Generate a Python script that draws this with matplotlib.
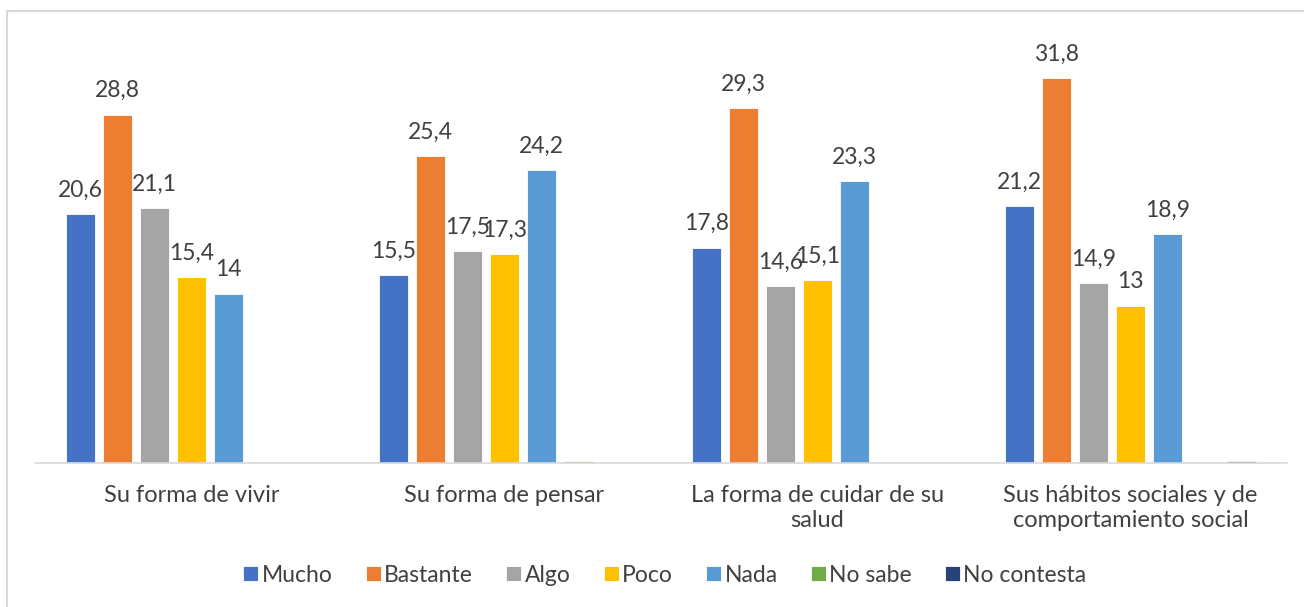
import matplotlib.pyplot as plt
import numpy as np
from matplotlib.patches import Rectangle

categories = ["Su forma de vivir", "Su forma de pensar",
              "La forma de cuidar de su\nsalud",
              "Sus hábitos sociales y de\ncomportamiento social"]
series_names = ["Mucho", "Bastante", "Algo", "Poco", "Nada", "No sabe", "No contesta"]
mucho = [20.6, 15.5, 17.8, 21.2]
bastante = [28.8, 25.4, 29.3, 31.8]
algo = [21.1, 17.5, 14.6, 14.9]
poco = [15.4, 17.3, 15.1, 13.0]
nada = [14.0, 24.2, 23.3, 18.9]
no_sabe = [0.1, 0.2, 0.0, 0.1]
no_contesta = [0.0, 0.0, 0.0, 0.2]
colors = ["#4472C4", "#ED7D31", "#A5A5A5", "#FFC000", "#5B9BD5", "#70AD47", "#264478"]

series = [mucho, bastante, algo, poco, nada, no_sabe, no_contesta]

plt.rcParams['font.family'] = ['Lato', 'DejaVu Sans']

W, H = 1304, 607
fig = plt.figure(figsize=(W/100, H/100), dpi=100)
ax = fig.add_axes([35/W, 1-463/H, (1287-35)/W, (463-39.5)/H])

x = np.arange(len(categories))
step = 37/313
width = 29/313
for i, (name, vals, c) in enumerate(zip(series_names, series, colors)):
    pos = x + (i - 3) * step
    ax.bar(pos, vals, width, color=c, label=name, edgecolor='white', linewidth=0.6)
    for p, v in zip(pos, vals):
        if v >= 1:
            txt = ("%g" % v).replace('.', ',')
            ax.text(p, v + 1.1, txt, ha='center', va='bottom', fontsize=16.5, color='#404040')

ax.set_xlim(-0.5, len(categories) - 0.5)
ax.set_ylim(0, 35)
for s in ['top', 'right', 'left']:
    ax.spines[s].set_visible(False)
ax.spines['bottom'].set_color('#D9D9D9')
ax.spines['bottom'].set_linewidth(1.2)
ax.set_yticks([])
ax.set_xticks(x)
ax.set_xticklabels(categories, fontsize=17, color='#404040', linespacing=1.25)
ax.tick_params(axis='x', length=0, pad=16)

leg = fig.legend(loc='center', bbox_to_anchor=(665/W, 1-575/H), ncol=7, frameon=False,
                 fontsize=16.5, handlelength=0.65, handleheight=0.65, handletextpad=0.15,
                 columnspacing=1.45)
for t in leg.get_texts():
    t.set_color('#404040')

fig.patches.append(Rectangle((7/W, -0.05), 1.1, 1 - 11/H + 0.05, transform=fig.transFigure,
                             fill=False, edgecolor='#D9D9D9', linewidth=1.5))

fig.savefig('out.png', dpi=100)
